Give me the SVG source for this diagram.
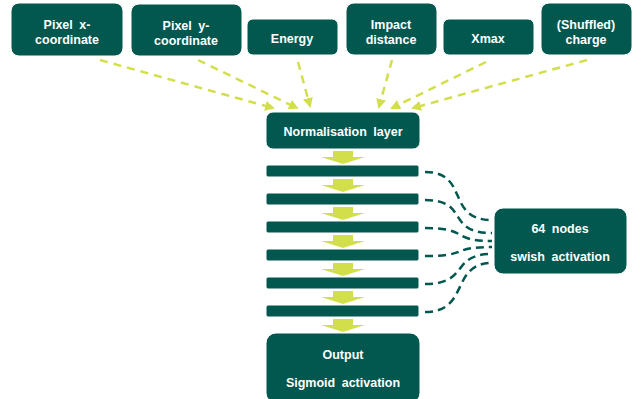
<svg xmlns="http://www.w3.org/2000/svg" width="641" height="399" viewBox="0 0 641 399">
<defs>
<style>
.box{fill:#02574F;stroke:#ffffff;stroke-width:1}
.t{font-family:"Liberation Sans",Arial,sans-serif;font-weight:bold;font-size:12.5px;fill:#ffffff;text-anchor:middle;word-spacing:3px}
.yd{fill:none;stroke:#D3DF4A;stroke-width:2.5;stroke-dasharray:8,6;marker-end:url(#ah)}
.td{fill:none;stroke:#02574F;stroke-width:2.5;stroke-dasharray:8,5}
.blk{fill:#D3DF4A}
</style>
<marker id="ah" viewBox="0 0 10 10" refX="8" refY="5" markerWidth="4" markerHeight="4" orient="auto" markerUnits="strokeWidth">
<path d="M0,0 L10,5 L0,10 z" fill="#D3DF4A"/>
</marker>
<path id="barrow" d="M-10,0 H10 V6 H22 L0,13 L-22,6 H-10 Z"/>
</defs>
<rect width="641" height="399" fill="#ffffff"/>

<g id="n-pixelx"><rect class="box" x="11" y="3" width="112" height="53" rx="8"/><text class="t" x="67" y="29">Pixel x-</text><text class="t" x="67" y="44">coordinate</text></g>
<g id="n-pixely"><rect class="box" x="131" y="4" width="111" height="52" rx="8"/><text class="t" x="186" y="30">Pixel y-</text><text class="t" x="186" y="45">coordinate</text></g>
<g id="n-energy"><rect class="box" x="247" y="19" width="91" height="36" rx="6"/><text class="t" x="292" y="43">Energy</text></g>
<g id="n-impact"><rect class="box" x="346" y="3" width="91" height="52" rx="8"/><text class="t" x="391" y="29">Impact</text><text class="t" x="391" y="44">distance</text></g>
<g id="n-xmax"><rect class="box" x="443" y="19" width="91" height="36" rx="6"/><text class="t" x="488" y="43">Xmax</text></g>
<g id="n-charge"><rect class="box" x="541" y="3" width="91" height="52" rx="8"/><text class="t" x="586" y="29">(Shuffled)</text><text class="t" x="586" y="44">charge</text></g>

<g id="n-norm"><rect class="box" x="266" y="112" width="154" height="37" rx="7"/><text class="t" x="343" y="136">Normalisation layer</text></g>

<g id="n-layers">
<rect class="box" x="266" y="165" width="153" height="12" rx="2"/>
<rect class="box" x="266" y="193" width="153" height="12" rx="2"/>
<rect class="box" x="266" y="221" width="153" height="12" rx="2"/>
<rect class="box" x="266" y="249" width="153" height="12" rx="2"/>
<rect class="box" x="266" y="277" width="153" height="12" rx="2"/>
<rect class="box" x="266" y="305" width="153" height="12" rx="2"/>
</g>

<g id="n-output"><rect class="box" x="266" y="333" width="154" height="70" rx="10"/><text class="t" x="343" y="359">Output</text><text class="t" x="343" y="387">Sigmoid activation</text></g>

<g id="n-swish"><rect class="box" x="494" y="208" width="133" height="66" rx="9"/><text class="t" x="560" y="233">64 nodes</text><text class="t" x="560" y="261">swish activation</text></g>

<g id="block-arrows" class="blk">
<use href="#barrow" x="343" y="151"/>
<use href="#barrow" x="343" y="179"/>
<use href="#barrow" x="343" y="207"/>
<use href="#barrow" x="343" y="235"/>
<use href="#barrow" x="343" y="263"/>
<use href="#barrow" x="343" y="291"/>
<use href="#barrow" x="343" y="319"/>
</g>

<g id="connectors">
<path class="yd" d="M100,60 L273,108"/>
<path class="yd" d="M198,60 L297,108"/>
<path class="yd" d="M298,62 L310,106"/>
<path class="yd" d="M392,60 L379,107"/>
<path class="yd" d="M486,62 L392,108"/>
<path class="yd" d="M587,60 L413,108"/>

<path class="td" d="M425,172 C470,172 445,220 492,220"/>
<path class="td" d="M425,200 C470,200 445,233 492,233"/>
<path class="td" d="M425,228 C470,228 450,241 492,241"/>
<path class="td" d="M425,256 C470,256 450,247 492,247"/>
<path class="td" d="M425,284 C470,284 450,254 492,254"/>
<path class="td" d="M425,312 C470,312 450,263 492,263"/>
</g>
</svg>
